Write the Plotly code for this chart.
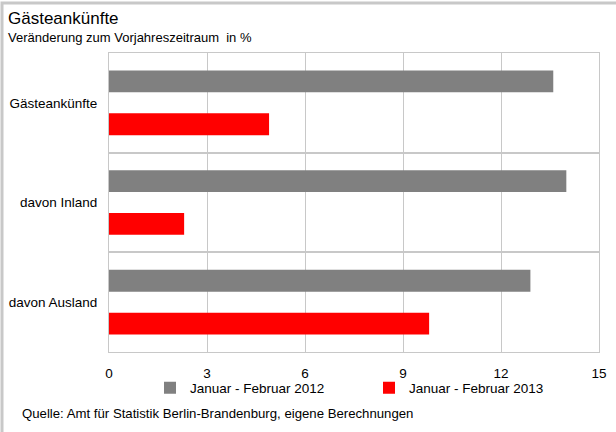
import plotly.graph_objects as go

categories = ["Gästeankünfte", "davon Inland", "davon Ausland"]
series_2012 = [13.6, 14.0, 12.9]
series_2013 = [4.9, 2.3, 9.8]
name_2012 = "Januar - Februar 2012"
name_2013 = "Januar - Februar 2013"
x_ticks = [0, 3, 6, 9, 12, 15]

FONT = "Liberation Sans, Arial, sans-serif"
GRID = "#c8c8c8"

fig = go.Figure()
fig.add_trace(go.Bar(y=categories, x=series_2012, name=name_2012, orientation="h",
                     marker=dict(color="#808080", line=dict(width=0))))
fig.add_trace(go.Bar(y=categories, x=series_2013, name=name_2013, orientation="h",
                     marker=dict(color="#ff0000", line=dict(width=0))))

W, H = 616, 432
L, R, T, B = 109, 17, 53, 80
pw, ph = W - L - R, H - T - B

def px_x(p):
    return (p - L) / pw

def px_y(p):
    return (H - B - p) / ph

fig.update_layout(
    width=W, height=H, autosize=False,
    margin=dict(l=L, r=R, t=T, b=B, autoexpand=False),
    paper_bgcolor="white", plot_bgcolor="white",
    font=dict(family=FONT, size=13.5, color="black"),
    barmode="group", bargap=0.14, bargroupgap=0.49,
    showlegend=True,
    legend=dict(orientation="h", x=px_x(369), y=px_y(388), xanchor="center", yanchor="middle",
                font=dict(size=13.5), entrywidth=174, entrywidthmode="pixels",
                bgcolor="rgba(0,0,0,0)"),
    xaxis=dict(range=[0, 15], tickvals=x_ticks, showgrid=True, gridcolor=GRID, gridwidth=1,
               showline=True, linecolor=GRID, linewidth=1, mirror=True, zeroline=False,
               ticks="", ticklabelstandoff=9, tickfont=dict(size=13.5), automargin=False),
    yaxis=dict(type="category", autorange="reversed", tickson="boundaries",
               showgrid=True, gridcolor=GRID, gridwidth=2,
               showline=True, linecolor=GRID, linewidth=1, mirror=True,
               ticks="", ticklabelstandoff=8, tickfont=dict(size=13.5), automargin=False),
    annotations=[
        dict(text="Gästeankünfte", x=px_x(6), y=px_y(18), xref="paper", yref="paper",
             xanchor="left", yanchor="middle", showarrow=False, font=dict(size=17)),
        dict(text="Veränderung zum Vorjahreszeitraum\u00a0\u00a0in %", x=px_x(6), y=px_y(37),
             xref="paper", yref="paper", xanchor="left", yanchor="middle", showarrow=False,
             font=dict(size=13)),
        dict(text="Quelle: Amt für Statistik Berlin-Brandenburg, eigene Berechnungen",
             x=px_x(20), y=px_y(413), xref="paper", yref="paper", xanchor="left",
             yanchor="middle", showarrow=False, font=dict(size=13.2)),
    ],
    shapes=[
        dict(type="rect", xref="paper", yref="paper", x0=px_x(2), x1=px_x(640),
             y0=px_y(3), y1=px_y(460), line=dict(color="#c8c8c8", width=3),
             fillcolor="rgba(0,0,0,0)", layer="below"),
    ],
)

fig.write_html("out.html", config={"displayModeBar": False, "responsive": False},
               post_script="document.body.style.margin='0';document.body.style.overflow='hidden';"
                           "document.documentElement.style.overflow='hidden';")
